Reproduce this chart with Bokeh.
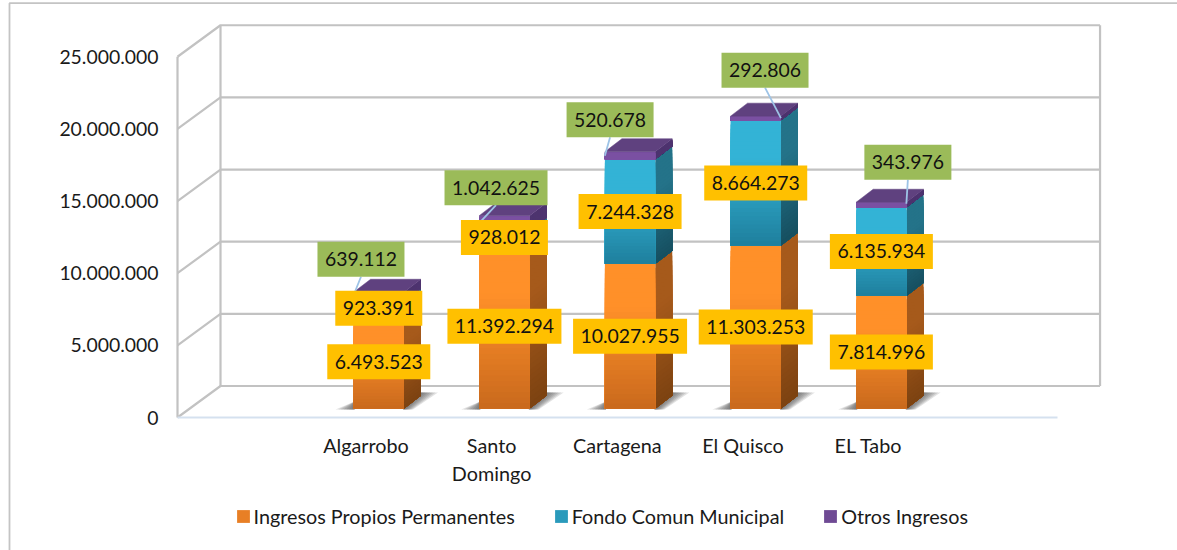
from bokeh.plotting import figure
from bokeh.embed import file_html
from bokeh.resources import INLINE
from bokeh.core.properties import value
from bokeh.models import (FixedTicker, Legend, LegendItem, Range1d)

# ---- data ----
categories = ["Algarrobo", "Santo\nDomingo", "Cartagena", "El Quisco", "EL Tabo"]
ingresos_propios = [6493523, 11392294, 10027955, 11303253, 7814996]
fondo_comun = [923391, 928012, 7244328, 8664273, 6135934]
otros_ingresos = [639112, 1042625, 520678, 292806, 343976]
series_names = ["Ingresos Propios Permanentes", "Fondo Comun Municipal", "Otros Ingresos"]
y_ticks = [0, 5000000, 10000000, 15000000, 20000000, 25000000]
y_tick_labels = ["0", "5.000.000", "10.000.000", "15.000.000", "20.000.000", "25.000.000"]

# ---- geometry (pixels per data unit, offsets of the 3D projection) ----
W, H = 1177, 550
SLOT = 125.65
PX_PER_UNIT = 72.15 / 5000000
AXIS_X, AXIS_Y = 177, 417


def dx(px):
    return px / SLOT


def dy(px):
    return px / PX_PER_UNIT


FONT = "Lato"
FS = "19.4px"
FS_CAT = "19.8px"
BAR_W = dx(50.4)
BAR_SHIFT_X, BAR_SHIFT_Y = dx(12.8), dy(9)
SIDE_X, SIDE_Y = dx(17), dy(13)
WALL_X, WALL_Y = dx(43), dy(31.5)
NSLOTS = 7

# the plotting frame fills the whole canvas; both axes are pinned to the chart's zero lines
p = figure(width=W, height=H, output_backend="svg", toolbar_location=None,
           x_range=Range1d(-dx(AXIS_X), dx(W - AXIS_X)),
           y_range=Range1d(-dy(H - AXIS_Y), dy(AXIS_Y)),
           min_border=0, outline_line_color=None,
           background_fill_color="white", border_fill_color="white")
p.styles = {"position": "absolute", "left": "0px", "top": "0px"}
p.grid.visible = False

# ---- outer border of the picture (top and left edges) ----
p.multi_line([[dx(9 - AXIS_X), dx(9 - AXIS_X), dx(W - AXIS_X)]], [[-dy(H - AXIS_Y), dy(AXIS_Y - 2.7), dy(AXIS_Y - 2.7)]],
             line_color="#C4C4C4", line_width=1.8)

# ---- axes ----
ax = p.yaxis[0]
ax.fixed_location = 0
ax.ticker = FixedTicker(ticks=y_ticks)
ax.major_label_overrides = {t: l for t, l in zip(y_ticks, y_tick_labels)}
ax.bounds = (0, y_ticks[-1])
ax.axis_line_color = None
ax.major_tick_line_color = None
ax.minor_tick_line_color = None
ax.major_tick_out = 0
ax.major_label_standoff = 19
ax.major_label_text_font = FONT
ax.major_label_text_font_size = FS
ax.major_label_text_color = "#1a1a1a"

bx = p.xaxis[0]
bx.fixed_location = 0
tick_pos = [i + 1.5 for i in range(len(categories))]
bx.ticker = FixedTicker(ticks=tick_pos)
bx.major_label_overrides = {t: c for t, c in zip(tick_pos, categories)}
bx.bounds = (0, NSLOTS)
bx.axis_line_color = "#D5E1EF"
bx.axis_line_width = 2
bx.major_tick_line_color = None
bx.minor_tick_line_color = None
bx.major_tick_out = 0
bx.major_label_standoff = 15
bx.major_label_text_font = FONT
bx.major_label_text_font_size = FS_CAT
bx.major_label_text_color = "#1a1a1a"

# ---- walls ----
wall_xs, wall_ys = [], []
for t in y_ticks:
    wall_xs.append([0, WALL_X, NSLOTS + WALL_X])
    wall_ys.append([t, t + WALL_Y, t + WALL_Y])
top = y_ticks[-1]
wall_xs += [[0, 0], [WALL_X, WALL_X], [NSLOTS + WALL_X, NSLOTS + WALL_X]]
wall_ys += [[0, top], [WALL_Y, top + WALL_Y], [WALL_Y, top + WALL_Y]]
p.multi_line(wall_xs, wall_ys, line_color="#C2C2C2", line_width=2.2)


# ---- bars ----
def mix(a, b, t):
    ca = [int(a[i:i + 2], 16) for i in (1, 3, 5)]
    cb = [int(b[i:i + 2], 16) for i in (1, 3, 5)]
    return "#%02x%02x%02x" % tuple(round(x + (y - x) * t) for x, y in zip(ca, cb))


# (front top, front bottom, side top, side bottom)
ORANGE = ("#FF9029", "#C9691D", "#A65A1B", "#7C4211")
BLUE = ("#33B3D6", "#1F7F9D", "#247389", "#164F60")
PURPLE = ("#7B52A2", "#7B52A2", "#4F3570", "#4F3570")
TOP_PURPLE = "#5F417F"
NSTRIPS = 30


def shade(c0, c1, k):
    # flat in the upper part, darkening towards the bottom
    t = max(0.0, (k - 0.3) / 0.7)
    return mix(c0, c1, t)


qL, qR, qT, qB, qC = [], [], [], [], []
sX, sY, sC = [], [], []
shX, shY, shA = [], [], []
topX, topY = [], []

for i in range(len(categories)):
    left = i + 1 + 0.5 + BAR_SHIFT_X - BAR_W / 2
    right = left + BAR_W
    base = BAR_SHIFT_Y
    # floor shadow, layered from faint and wide to dark and narrow
    for grow in (1.0, 0.85, 0.7, 0.55, 0.4, 0.25, 0.12):
        shX.append([left - dx(18) * grow, left + dx(1), left + dx(1)])
        shY.append([base - dy(1), base + dy(7), base - dy(1)])
        shA.append(0.16)
        shX.append([right - dx(1), right + SIDE_X, right + SIDE_X + dx(17) * grow, right + dx(9) * grow])
        shY.append([base - dy(1), base + dy(16), base + dy(16), base - dy(1)])
        shA.append(0.16)
    bottom = 0
    for vals, cols in ((ingresos_propios, ORANGE), (fondo_comun, BLUE), (otros_ingresos, PURPLE)):
        h = vals[i]
        y0 = base + bottom
        # painted from the top down; each strip runs to the bottom of its segment, so no seams show
        for k in range(NSTRIPS):
            y1 = y0 + h * (1 - k / NSTRIPS)
            f = (k + 0.5) / NSTRIPS
            qL.append(left)
            qR.append(right)
            qT.append(y1)
            qB.append(y0)
            qC.append(shade(cols[0], cols[1], f))
            sX.append([right, right + SIDE_X, right + SIDE_X, right])
            sY.append([y0, y0 + SIDE_Y, y1 + SIDE_Y, y1])
            sC.append(shade(cols[2], cols[3], f))
        bottom += h
    topX.append([left, right, right + SIDE_X, left + SIDE_X])
    yt = base + bottom
    topY.append([yt, yt, yt + SIDE_Y, yt + SIDE_Y])

p.patches(shX, shY, fill_color="#484848", fill_alpha=shA, line_color=None)
p.patches(sX, sY, fill_color=sC, line_color=None)
p.quad(left=qL, right=qR, top=qT, bottom=qB, fill_color=qC, line_color=None)
p.patches(topX, topY, fill_color=TOP_PURPLE, line_color=TOP_PURPLE, line_width=0.5)

# ---- value labels ----
LABEL_H = 35
WIDTH_BY_LEN = {7: 87, 9: 103, 10: 114}
GOLD = "#FFC000"
GREEN = "#9BBB59"


def fmt(v):
    return f"{v:,}".replace(",", ".")


# offset of the green labels from the top of the bar, and where each leader ends on the bar
top_label_dx = [-17.8, -8.4, -20, 9.3, 26.5]
top_label_dy = [33, 28, 32, 46, 40]
leader_end_dx = [-25.2, -25.2, -25.2, 25.2, 25]
leader_end_dy = [-3, -7.5, -4, -2, -1.5]

bx_x, bx_y, bx_w, bx_c, t_txt = [], [], [], [], []
lead_xs, lead_ys = [], []
for i in range(len(categories)):
    c = i + 1 + 0.5 + BAR_SHIFT_X
    a, b, o = ingresos_propios[i], fondo_comun[i], otros_ingresos[i]
    for v, mid in ((a, a / 2), (b, a + b / 2)):
        bx_x.append(c)
        bx_y.append(BAR_SHIFT_Y + mid)
        t_txt.append(fmt(v))
        bx_w.append(WIDTH_BY_LEN[len(fmt(v))])
        bx_c.append(GOLD)
    tot = BAR_SHIFT_Y + a + b + o
    lx = c + dx(top_label_dx[i])
    ly = tot + dy(top_label_dy[i])
    bx_x.append(lx)
    bx_y.append(ly)
    t_txt.append(fmt(o))
    bx_w.append(WIDTH_BY_LEN[len(fmt(o))])
    bx_c.append(GREEN)
    lead_xs.append([lx, c + dx(leader_end_dx[i])])
    lead_ys.append([ly - dy(LABEL_H / 2), tot + dy(leader_end_dy[i])])

p.multi_line(lead_xs, lead_ys, line_color="#9DC3E6", line_width=1.8)
p.rect(bx_x, bx_y, width=bx_w, height=LABEL_H, width_units="screen", height_units="screen",
       fill_color=bx_c, line_color=None)
p.text(bx_x, bx_y, text=t_txt, text_align="center", text_baseline="middle",
       text_font=value(FONT), text_font_size=FS, text_color="#111111")

# ---- legend ----
nan = float("nan")
items = []
for name, col in zip(series_names, ("#E87F25", "#2A9ABB", "#6F4A94")):
    r = p.quad(left=[nan], right=[nan], top=[nan], bottom=[nan], fill_color=col, line_color=None)
    items.append(LegendItem(label=name, renderers=[r]))
leg = Legend(items=items, orientation="horizontal", location=(234.5, 22),
             glyph_width=16, glyph_height=16, label_standoff=3, spacing=38, padding=0, margin=0,
             border_line_color=None, background_fill_alpha=0,
             label_text_font=FONT, label_text_font_size=FS_CAT, label_text_color="#1a1a1a")
p.add_layout(leg, "center")

open("out.html", "w").write(file_html(p, INLINE))
